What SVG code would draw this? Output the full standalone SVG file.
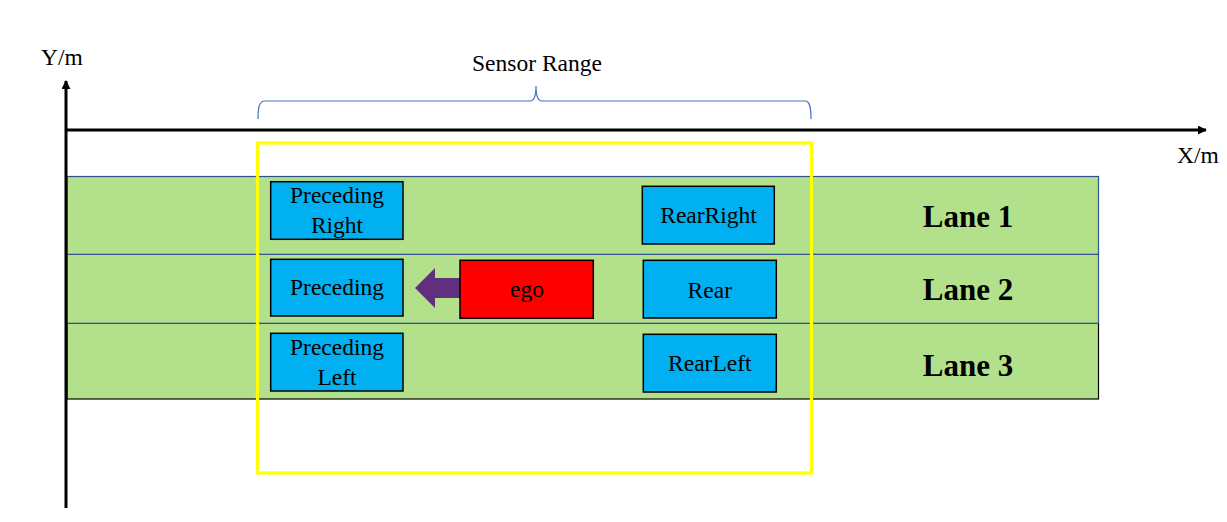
<svg xmlns="http://www.w3.org/2000/svg" width="1227" height="522" viewBox="0 0 1227 522">
<style>
text{font-family:"Liberation Serif","Times New Roman",serif;fill:#000}
.lbl{font-size:23.5px;text-anchor:middle}
.lane{font-size:31px;font-weight:bold;text-anchor:middle}
.veh{fill:#00B0F0;stroke:#000;stroke-width:1.5}
.axis{stroke:#000;stroke-width:3;fill:none}
</style>
<defs>
<marker id="ah" viewBox="0 0 10 10" refX="9" refY="5" markerWidth="3" markerHeight="3" orient="auto" markerUnits="strokeWidth">
<path d="M0,0 L10,5 L0,10 Z" fill="#000"/>
</marker>
</defs>
<rect width="1227" height="522" fill="#fff"/>
<g id="lanes">
<g id="lane3"><rect x="67" y="323.3" width="1031.5" height="75.7" fill="#B3E08A" stroke="#000" stroke-width="1.2"/><text class="lane" x="968" y="376">Lane 3</text></g>
<g id="lane2"><rect x="67" y="254.3" width="1031.5" height="69" fill="#B3E08A" stroke="#2F528F" stroke-width="1.2"/><text class="lane" x="968" y="300">Lane 2</text></g>
<g id="lane1"><rect x="67" y="176.5" width="1031.5" height="77.8" fill="#B3E08A" stroke="#2F528F" stroke-width="1.2"/><text class="lane" x="968" y="227.3">Lane 1</text></g>
</g>
<g id="axes">
<line class="axis" x1="66" y1="508" x2="66" y2="81" marker-end="url(#ah)"/>
<line class="axis" x1="66" y1="130" x2="1206" y2="130" marker-end="url(#ah)"/>
<text id="ylabel" class="lbl" x="62" y="65">Y/m</text>
<text id="xlabel" class="lbl" x="1198" y="163">X/m</text>
</g>
<g id="sensor-range">
<path d="M258,119 C258,108 259,101 265,101 L530,101 C534,101 536,96 536,86 C536,96 538,101 542,101 L805,101 C810,101 811,108 811,119" fill="none" stroke="#4472C4" stroke-width="1.2"/>
<text class="lbl" x="537" y="71">Sensor Range</text>
<rect x="257.5" y="143" width="554" height="330" fill="none" stroke="#FFFF00" stroke-width="3.2"/>
</g>
<g id="connectors">
<path d="M461,278 L435,278 L435,268 L415,288 L435,308 L435,298 L461,298 Z" fill="#60307F"/>
</g>
<g id="preceding-right"><rect class="veh" x="270.7" y="181.7" width="132.3" height="57.6"/><text class="lbl" x="337" y="203.3">Preceding</text><text class="lbl" x="337" y="233.3">Right</text></g>
<g id="preceding"><rect class="veh" x="270.7" y="259.3" width="132.3" height="56.7"/><text class="lbl" x="337" y="295">Preceding</text></g>
<g id="preceding-left"><rect class="veh" x="270.7" y="333.3" width="132.3" height="57.7"/><text class="lbl" x="337" y="355">Preceding</text><text class="lbl" x="337" y="385">Left</text></g>
<g id="ego"><rect x="460" y="260.3" width="133.3" height="58" fill="#FF0000" stroke="#000" stroke-width="1.5"/><text class="lbl" x="527" y="296.7">ego</text></g>
<g id="rear-right"><rect class="veh" x="642.3" y="186.3" width="132" height="57.7"/><text class="lbl" x="708.5" y="223.3">RearRight</text></g>
<g id="rear"><rect class="veh" x="643.3" y="260.3" width="133" height="57.7"/><text class="lbl" x="709.8" y="297.7">Rear</text></g>
<g id="rear-left"><rect class="veh" x="643.3" y="334.3" width="133" height="57.7"/><text class="lbl" x="709.8" y="371">RearLeft</text></g>
</svg>
